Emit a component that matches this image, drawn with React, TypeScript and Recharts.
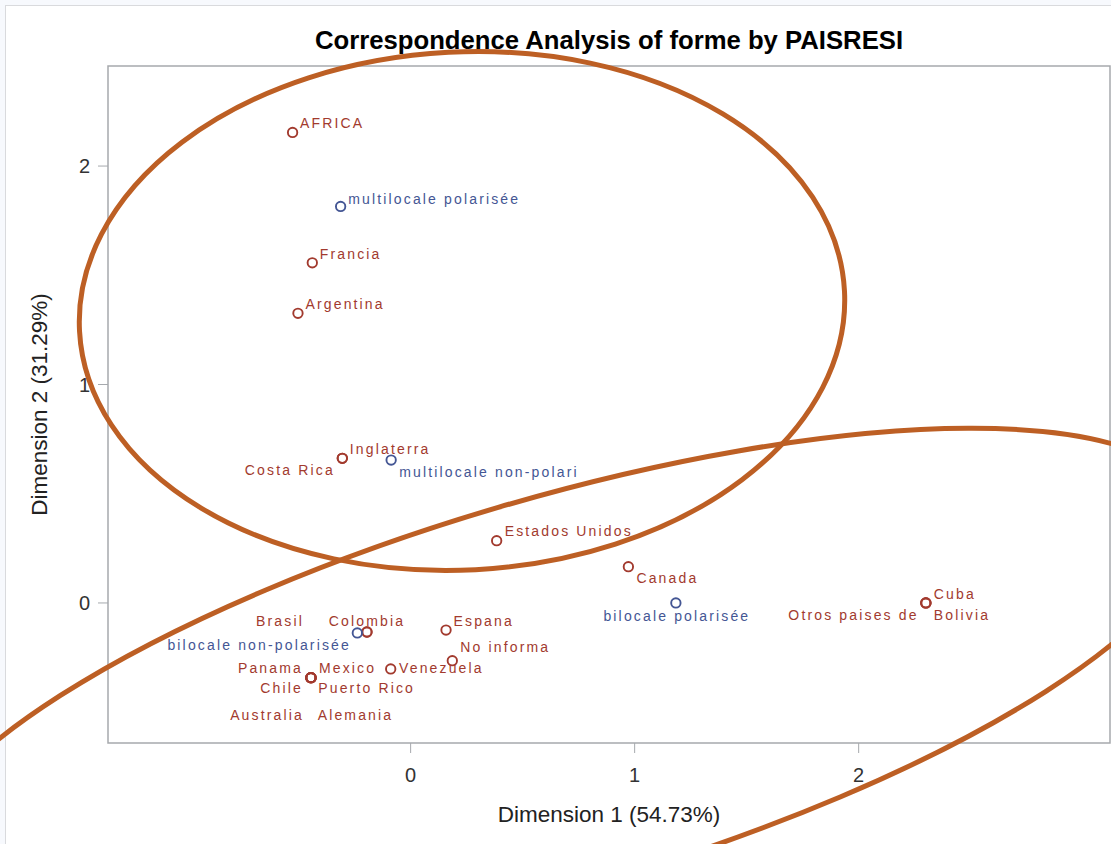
import {
  ScatterChart,
  Scatter,
  XAxis,
  YAxis,
  ReferenceArea,
  Label,
} from "recharts";

// row profile points (PAISRESI) — Dimension 1 / Dimension 2
const rowNames = [
  "AFRICA",
  "Francia",
  "Argentina",
  "Inglaterra",
  "Costa Rica",
  "Estados Unidos",
  "Canada",
  "Cuba",
  "Otros paises de",
  "Bolivia",
  "Brasil",
  "Colombia",
  "Espana",
  "No informa",
  "Venezuela",
  "Panama",
  "Mexico",
  "Chile",
  "Puerto Rico",
  "Australia",
  "Alemania",
];
const rowDim1 = [
  -0.527, -0.439, -0.503, -0.305, -0.305, 0.384, 0.972, 2.3, 2.3, 2.3, -0.195,
  -0.195, 0.158, 0.186, -0.089, -0.445, -0.445, -0.445, -0.445, -0.445, -0.445,
];
const rowDim2 = [
  2.154, 1.557, 1.326, 0.662, 0.662, 0.285, 0.166, 0.0, 0.0, 0.0, -0.133,
  -0.133, -0.124, -0.264, -0.302, -0.342, -0.342, -0.342, -0.342, -0.342,
  -0.342,
];

// column profile points (forme)
const colNames = [
  "multilocale polarisée",
  "multilocale non-polari",
  "bilocale polarisée",
  "bilocale non-polarisée",
];
const colDim1 = [-0.3125, -0.087, 1.184, -0.238];
const colDim2 = [1.815, 0.654, 0.0, -0.137];

const tickValues = [0, 1, 2];
const xDomain: [number, number] = [-1.351, 3.122];
const yDomain: [number, number] = [-0.641, 2.458];

const title = "Correspondence Analysis of forme by PAISRESI";
const xTitle = "Dimension 1 (54.73%)";
const yTitle = "Dimension 2 (31.29%)";

// where each point label sits relative to its marker: [dx, dy, anchor]
type Anchor = "start" | "middle" | "end";
const labelPlacement: Record<string, [number, number, Anchor]> = {
  AFRICA: [7.5, -4, "start"],
  Francia: [7.5, -4, "start"],
  Argentina: [7.5, -4, "start"],
  Inglaterra: [7.5, -4, "start"],
  "Costa Rica": [-7.5, 16.7, "end"],
  "Estados Unidos": [8, -4.5, "start"],
  Canada: [8, 16.5, "start"],
  Cuba: [8, -3.5, "start"],
  "Otros paises de": [-7.2, 17.5, "end"],
  Bolivia: [8, 17.5, "start"],
  Brasil: [-63, -6.3, "end"],
  Colombia: [0, -6.3, "middle"],
  Espana: [7.5, -4.3, "start"],
  "No informa": [8, -9, "start"],
  Venezuela: [8.3, 3.8, "start"],
  Panama: [-8, -5, "end"],
  Mexico: [8, -5, "start"],
  Chile: [-8, 15.6, "end"],
  "Puerto Rico": [7.3, 15.6, "start"],
  Australia: [-7, 42.3, "end"],
  Alemania: [6.7, 42.3, "start"],
  "multilocale polarisée": [7.6, -2.7, "start"],
  "multilocale non-polari": [8, 16.7, "start"],
  "bilocale polarisée": [1, 18.2, "middle"],
  "bilocale non-polarisée": [-6.4, 17, "end"],
};

// hand-drawn highlight ellipses (pixel space, on top of the picture)
const highlights = [
  { cx: 462, cy: 311, rx: 383, ry: 259, rotate: -3 },
  { cx: 553, cy: 693.5, rx: 669, ry: 194, rotate: -16.4 },
];

const rowData = rowNames.map((name, i) => ({ name, x: rowDim1[i], y: rowDim2[i] }));
const colData = colNames.map((name, i) => ({ name, x: colDim1[i], y: colDim2[i] }));

const RED = "#A23A2E";
const BLUE = "#445694";
const FONT = "'Liberation Sans', Arial, sans-serif";

const renderMarker = (color: string) => (props: any) => {
  const { cx, cy, payload } = props;
  const [dx, dy, anchor] = labelPlacement[payload.name] ?? [7.5, -4, "start"];
  return (
    <g>
      <circle cx={cx} cy={cy} r={4.7} fill="none" stroke={color} strokeWidth={1.9} />
      <text
        x={cx + dx}
        y={cy + dy}
        textAnchor={anchor}
        fill={color}
        fontSize={14}
        fontFamily={FONT}
        style={{ letterSpacing: "2.15px" }}
      >
        {payload.name}
      </text>
    </g>
  );
};

const YTitle = () => (
  <text
    x={39}
    y={404.5}
    transform="rotate(-90, 39, 404.5)"
    textAnchor="middle"
    dominantBaseline="central"
    fill="#222"
    fontSize={22.5}
    fontFamily={FONT}
  >
    {yTitle}
  </text>
);

export default function App() {
  return (
    <div
      style={{
        position: "absolute",
        left: 0,
        top: 0,
        width: 1111,
        height: 844,
        overflow: "hidden",
        background: "#f7f9fd",
      }}
    >
      <div
        style={{
          position: "absolute",
          left: 5,
          top: 5,
          width: 1200,
          height: 1000,
          background: "#fff",
          borderLeft: "1.5px solid #d9dadd",
          borderTop: "1.5px solid #d9dadd",
        }}
      />
      <div style={{ position: "absolute", left: 0, top: 0 }}>
        <ScatterChart
          width={1111}
          height={844}
          margin={{ top: 66, right: 1, bottom: 0, left: 0 }}
        >
          <ReferenceArea
            x1={xDomain[0]}
            x2={xDomain[1]}
            y1={yDomain[0]}
            y2={yDomain[1]}
            fill="none"
            stroke="#a6a9ad"
            strokeWidth={1.5}
            strokeOpacity={1}
          />
          <XAxis
            type="number"
            dataKey="x"
            domain={xDomain}
            allowDataOverflow
            ticks={tickValues}
            height={101}
            axisLine={false}
            tickSize={10}
            tickMargin={15}
            tickLine={{ stroke: "#a6a9ad" }}
            tick={{ fill: "#333", fontSize: 20, fontFamily: FONT }}
          >
            <Label
              value={xTitle}
              position="insideBottom"
              offset={22}
              fill="#222"
              fontSize={22.5}
              fontFamily={FONT}
            />
          </XAxis>
          <YAxis
            type="number"
            dataKey="y"
            domain={yDomain}
            allowDataOverflow
            ticks={tickValues}
            width={108}
            axisLine={false}
            tickSize={10}
            tickMargin={8}
            tickLine={{ stroke: "#a6a9ad" }}
            tick={{ fill: "#333", fontSize: 20, fontFamily: FONT }}
          >
            <Label content={<YTitle />} />
          </YAxis>
          <Scatter
            data={rowData}
            shape={renderMarker(RED)}
            isAnimationActive={false}
          />
          <Scatter
            data={colData}
            shape={renderMarker(BLUE)}
            isAnimationActive={false}
          />
        </ScatterChart>
      </div>
      <svg
        width={1111}
        height={844}
        style={{ position: "absolute", left: 0, top: 0, pointerEvents: "none" }}
      >
        <text
          x={609}
          y={49}
          textAnchor="middle"
          fontSize={25.7}
          fontWeight="bold"
          fontFamily={FONT}
          fill="#000"
        >
          {title}
        </text>
        {highlights.map((h, i) => (
          <ellipse
            key={i}
            cx={h.cx}
            cy={h.cy}
            rx={h.rx}
            ry={h.ry}
            transform={`rotate(${h.rotate}, ${h.cx}, ${h.cy})`}
            fill="none"
            stroke="#bd5f24"
            strokeWidth={5}
          />
        ))}
      </svg>
    </div>
  );
}
